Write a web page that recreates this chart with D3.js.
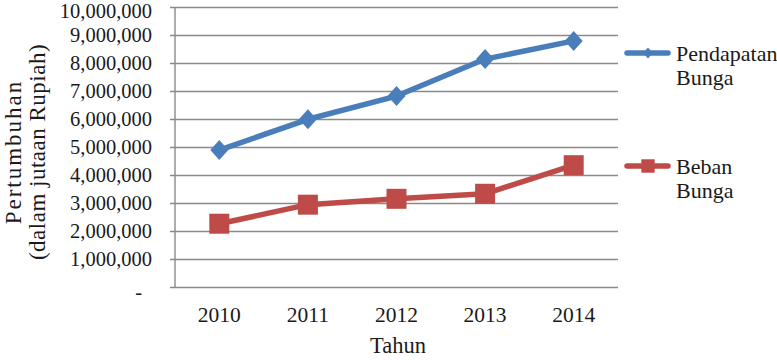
<!DOCTYPE html>
<html>
<head>
<meta charset="utf-8">
<script src="https://cdn.jsdelivr.net/npm/d3@7"></script>
<style>
  body { margin: 0; background: #fff; }
  svg text { font-family: 'Liberation Serif', 'Times New Roman', serif; fill: #1a1a1a; }
</style>
</head>
<body>
<div id="chart"></div>
<script>
// chart data
var years = ["2010", "2011", "2012", "2013", "2014"];
var pendapatan = [4890000, 5990000, 6820000, 8140000, 8790000];
var beban = [2260000, 2940000, 3150000, 3330000, 4350000];
var yTicks = [0, 1000000, 2000000, 3000000, 4000000, 5000000, 6000000, 7000000, 8000000, 9000000, 10000000];

var width = 777, height = 360;
var margin = {left: 175, right: 159, top: 7, bottom: 73};

var svg = d3.select("#chart").append("svg")
    .attr("width", width)
    .attr("height", height);

var x = d3.scaleBand().domain(years).range([margin.left, width - margin.right]);
var y = d3.scaleLinear().domain([0, 10000000]).range([height - margin.bottom, margin.top]);

var fmt = d3.format(",");

// diamond marker, a bit taller than wide
var diamond = {
  draw: function(ctx, size) {
    var r = Math.sqrt(size / 2);
    ctx.moveTo(0, -r);
    ctx.lineTo(r * 0.9, 0);
    ctx.lineTo(0, r);
    ctx.lineTo(-r * 0.9, 0);
    ctx.closePath();
  }
};

// gridlines + y axis
var yAxis = d3.axisLeft(y).tickValues(yTicks)
    .tickSize(-(width - margin.right - margin.left))
    .tickPadding(23)
    .tickFormat(function(d) { return d === 0 ? "-" : fmt(d); });

var gy = svg.append("g")
    .attr("transform", "translate(" + margin.left + ",0)")
    .call(yAxis);
gy.attr("font-family", null).attr("font-size", null);
gy.select(".domain").remove();
gy.selectAll(".tick line")
    .attr("x1", -5)
    .attr("stroke", "#8a8a8a")
    .attr("stroke-width", 1.4);
gy.selectAll(".tick text")
    .style("font-size", "20.5px")
    .attr("fill", "#1a1a1a")
    .attr("dy", function(d) { return d === 0 ? "0.55em" : (d === 10000000 ? "0.52em" : "0.34em"); })
    .attr("dx", function(d) { return d === 0 ? "-10px" : "0"; });

// vertical axis line
svg.append("line")
    .attr("x1", margin.left).attr("x2", margin.left)
    .attr("y1", y(10000000)).attr("y2", y(0))
    .attr("stroke", "#8a8a8a").attr("stroke-width", 1.4);

// x axis labels
var xAxis = d3.axisBottom(x).tickSize(0).tickPadding(20);
var gx = svg.append("g")
    .attr("transform", "translate(0," + y(0) + ")")
    .call(xAxis);
gx.attr("font-family", null).attr("font-size", null);
gx.select(".domain").remove();
gx.selectAll(".tick text")
    .style("font-size", "21.5px")
    .attr("fill", "#1a1a1a");

// axis titles
svg.append("text")
    .attr("x", 398).attr("y", 353)
    .attr("text-anchor", "middle")
    .style("font-size", "22.5px")
    .text("Tahun");

var yt = svg.append("text")
    .attr("transform", "translate(21,152) rotate(-90)")
    .attr("text-anchor", "middle")
    .style("font-size", "23px");
yt.append("tspan").attr("x", 0).attr("dy", 0)
    .style("letter-spacing", "2px")
    .text("Pertumbuhan");
yt.append("tspan").attr("x", 0).attr("dy", 24)
    .style("letter-spacing", "0.5px")
    .text("(dalam jutaan Rupiah)");

// series
var series = [
  {name: ["Pendapatan", "Bunga"], values: pendapatan, color: "#4a7ebb", shape: diamond, size: 200, lsize: 60, ly: 53},
  {name: ["Beban", "Bunga"], values: beban, color: "#be4b48", shape: d3.symbolSquare, size: 400, lsize: 180, ly: 166}
];

var line = d3.line()
    .x(function(d, i) { return x(years[i]) + x.bandwidth() / 2; })
    .y(function(d) { return y(d); });

series.forEach(function(s) {
  svg.append("path")
      .attr("d", line(s.values))
      .attr("fill", "none")
      .attr("stroke", s.color)
      .attr("stroke-width", 5.5)
      .attr("stroke-linejoin", "round");

  svg.selectAll(null).data(s.values).enter().append("path")
      .attr("d", d3.symbol().type(s.shape).size(s.size))
      .attr("transform", function(d, i) {
        return "translate(" + (x(years[i]) + x.bandwidth() / 2) + "," + y(d) + ")";
      })
      .attr("fill", s.color);

  // legend
  svg.append("line")
      .attr("x1", 627).attr("x2", 668)
      .attr("y1", s.ly).attr("y2", s.ly)
      .attr("stroke", s.color).attr("stroke-width", 5.5)
      .attr("stroke-linecap", "round");
  svg.append("path")
      .attr("d", d3.symbol().type(s.shape).size(s.lsize))
      .attr("transform", "translate(648," + s.ly + ")")
      .attr("fill", s.color);
  var lt = svg.append("text")
      .attr("x", 676).attr("y", s.ly + 8)
      .style("font-size", "22px");
  lt.append("tspan").attr("x", 676).attr("dy", 0).text(s.name[0]);
  lt.append("tspan").attr("x", 676).attr("dy", 24).text(s.name[1]);
});
</script>
</body>
</html>
